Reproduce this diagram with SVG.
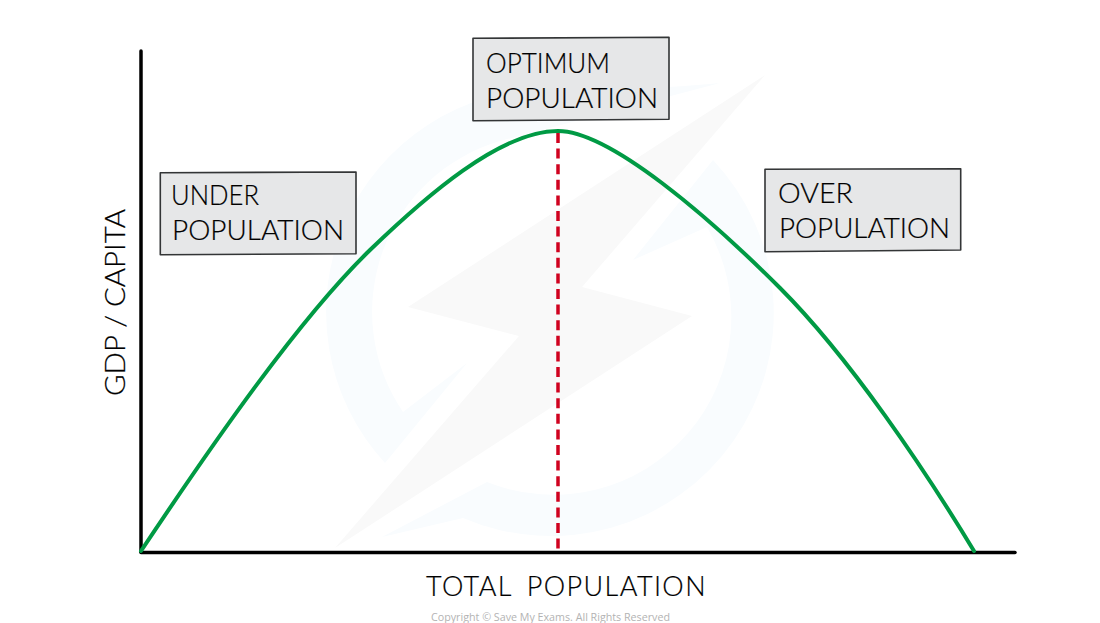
<svg xmlns="http://www.w3.org/2000/svg" width="1100" height="623" viewBox="0 0 1100 623">
<style>
.box{fill:#e6e7e8;stroke:#333536;stroke-width:1.6;stroke-linejoin:round}
.t{font-family:"Lato","Liberation Sans",sans-serif;font-size:27px;fill:#000;stroke:#000;stroke-width:.2;font-weight:300}
.axis{stroke:#000;stroke-width:3.5;fill:none;stroke-linecap:round}
</style>
<rect width="1100" height="623" fill="#fff"/>
<g id="watermark">
<path fill="#f9fcfe" d="M720,83 C650,90 600,89 550,89 A223,223 0 0 0 385,463 L467,363 L403,412 A178,178 0 0 1 500,141 Z"/>
<path fill="#f9fcfe" d="M713,160 A223,223 0 0 1 463,518 L382,537 L487,482 A178,178 0 0 0 707,227 L633,260 Z"/>
<path fill="#f9f9f9" d="M765,75 L408,307 L519,336 L335,548 L692,316 L582,287 Z"/>
</g>
<g id="connectors">
<path id="y-axis" class="axis" d="M141,51 L141,552"/>
<path id="x-axis" class="axis" d="M141,552.5 L1015,552.5"/>
<path id="optimum-line" d="M558,133 L558,552" fill="none" stroke="#d0021f" stroke-width="3.5" stroke-dasharray="10 5.6"/>
<path id="curve" fill="none" stroke="#009a44" stroke-width="4" stroke-linecap="round" d="M141,551 C215,440 300,318 370,250 C425,197 500,131 558,131 C610,131 710,218 780,288 C850,358 925,470 974,551"/>
</g>
<g id="node-optimum">
<polygon class="box" points="473,38.3 669,37.3 669,119.3 473,120.7"/>
<text class="t" x="486" y="72.5" textLength="124" lengthAdjust="spacingAndGlyphs">OPTIMUM</text>
<text class="t" x="486" y="107.5" textLength="172" lengthAdjust="spacingAndGlyphs">POPULATION</text>
</g>
<g id="node-under">
<polygon class="box" points="160.3,172.7 356,172 356,253.7 160.3,254.7"/>
<text class="t" x="171" y="205" textLength="88" lengthAdjust="spacingAndGlyphs">UNDER</text>
<text class="t" x="172" y="239.5" textLength="172" lengthAdjust="spacingAndGlyphs">POPULATION</text>
</g>
<g id="node-over">
<polygon class="box" points="765,169.3 960.7,168.7 960.7,250 765,251.7"/>
<text class="t" x="778" y="202.5" textLength="75" lengthAdjust="spacingAndGlyphs">OVER</text>
<text class="t" x="779" y="238" textLength="171" lengthAdjust="spacingAndGlyphs">POPULATION</text>
</g>
<g id="labels">
<text class="t" transform="translate(125,396) rotate(-90)" textLength="187" lengthAdjust="spacingAndGlyphs">GDP / CAPITA</text>
<text class="t" x="426" y="595.5" word-spacing="6" letter-spacing="1.4">TOTAL POPULATION</text>
<text x="431" y="621" font-family="'Open Sans','Liberation Sans',sans-serif" font-size="11" fill="#b3b3b3" textLength="239" lengthAdjust="spacingAndGlyphs">Copyright © Save My Exams. All Rights Reserved</text>
</g>
</svg>
